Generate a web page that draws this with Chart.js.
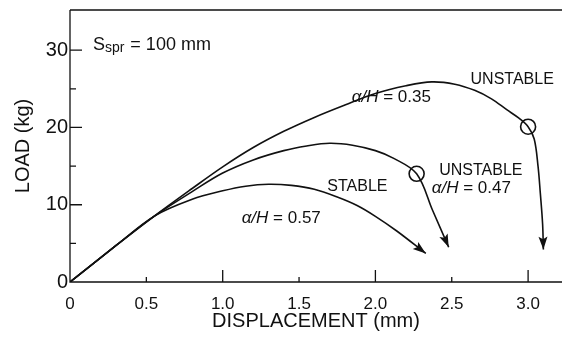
<!DOCTYPE html>
<html>
<head>
<meta charset="utf-8">
<script src="https://cdn.jsdelivr.net/npm/chart.js@4.4.1/dist/chart.umd.min.js"></script>
<style>
  html, body { margin: 0; padding: 0; background: #fff; }
  #wrap { width: 562px; height: 347px; }
</style>
</head>
<body>
<div id="wrap"><canvas id="myChart" width="562" height="347"></canvas></div>
<script>
// curve a/H = 0.35 (unstable, the high one)
var disp035 = [0, 0.3, 0.55, 0.8, 1.0, 1.2, 1.4, 1.6, 1.8, 2.0, 2.2, 2.37, 2.52, 2.65, 2.76, 2.86, 2.94, 3.0, 3.04, 3.065, 3.08, 3.095, 3.1];
var load035 = [0, 4.7, 8.5, 12.1, 14.9, 17.4, 19.5, 21.3, 22.9, 24.4, 25.4, 25.9, 25.6, 24.8, 23.7, 22.3, 21.2, 20.1, 18.5, 15.0, 11.5, 7.5, 4.2];
// curve a/H = 0.47
var disp047 = [0, 0.3, 0.55, 0.8, 1.0, 1.2, 1.4, 1.55, 1.7, 1.85, 2.0, 2.12, 2.27, 2.375, 2.48];
var load047 = [0, 4.7, 8.5, 11.7, 14.1, 15.8, 17.0, 17.6, 17.95, 17.7, 17.0, 16.0, 14.0, 9.25, 4.5];
// curve a/H = 0.57 (stable)
var disp057 = [0, 0.3, 0.55, 0.8, 1.0, 1.15, 1.3, 1.45, 1.6, 1.75, 1.88, 2.0, 2.14, 2.33];
var load057 = [0, 4.7, 8.5, 10.7, 11.8, 12.4, 12.65, 12.5, 12.0, 11.0, 9.9, 8.5, 6.6, 3.7];
// instability points (circles)
var circleDisp = [3.0, 2.27];
var circleLoad = [20.1, 14.0];

var xTicks = [0, 0.5, 1, 1.5, 2, 2.5, 3];
var xTickLabels = ["0", "0.5", "1.0", "1.5", "2.0", "2.5", "3.0"];
var yTicks = [0, 10, 20, 30];
var yTickLabels = ["0", "10", "20", "30"];
var yMinorTicks = [5, 15, 25];

var FONT = "'Liberation Sans', Arial, Helvetica, sans-serif";
var INK = "#111";

// text notes placed in data units
var notes = [
  { x: 0.15, y: 30.0, parts: [["S", 18, ""], ["spr", 14, "sub"], [" = 100 mm", 18, ""]] },
  { x: 2.623, y: 25.6, parts: [["UNSTABLE", 16, ""]] },
  { x: 1.845, y: 23.35, parts: [["α/H", 17, "i"], [" = 0.35", 17, ""]] },
  { x: 2.418, y: 13.86, parts: [["UNSTABLE", 16, ""]] },
  { x: 2.369, y: 11.49, parts: [["α/H", 17, "i"], [" = 0.47", 17, ""]] },
  { x: 1.685, y: 11.83, parts: [["STABLE", 16, ""]] },
  { x: 1.124, y: 7.6, parts: [["α/H", 17, "i"], [" = 0.57", 17, ""]] }
];

function pts(xs, ys) {
  return xs.map(function (v, i) { return { x: v, y: ys[i] }; });
}

function curve(label, xs, ys) {
  return {
    label: label,
    data: pts(xs, ys),
    borderColor: INK,
    borderWidth: 1.6,
    pointRadius: 0,
    tension: 0.35,
    fill: false,
  };
}

var inkPlugin = {
  id: "ink",
  beforeDatasetsDraw: function (chart) {
    var ctx = chart.ctx, a = chart.chartArea, x = chart.scales.x, y = chart.scales.y;
    ctx.save();
    ctx.strokeStyle = INK;
    ctx.lineWidth = 1.3;
    ctx.beginPath();
    ctx.moveTo(a.left, a.top);
    ctx.lineTo(a.right, a.top);
    ctx.moveTo(a.left, a.top);
    ctx.lineTo(a.left, a.bottom);
    ctx.lineTo(a.right, a.bottom);
    xTicks.forEach(function (v) {
      var px = x.getPixelForValue(v);
      var len = v % 1 === 0 ? 12 : 5;
      ctx.moveTo(px, a.bottom);
      ctx.lineTo(px, a.bottom - len);
    });
    yTicks.forEach(function (v) {
      var py = y.getPixelForValue(v);
      ctx.moveTo(a.left, py);
      ctx.lineTo(a.left + 12, py);
    });
    yMinorTicks.forEach(function (v) {
      var py = y.getPixelForValue(v);
      ctx.moveTo(a.left, py);
      ctx.lineTo(a.left + 6, py);
    });
    ctx.stroke();
    ctx.restore();
  },
  afterDatasetsDraw: function (chart) {
    var ctx = chart.ctx, x = chart.scales.x, y = chart.scales.y;
    ctx.save();
    ctx.fillStyle = INK;
    // arrow heads on the three curves
    [0, 1, 2].forEach(function (di) {
      var els = chart.getDatasetMeta(di).data;
      var p = els[els.length - 1], q = els[els.length - 2];
      var fx = p.cp1x !== undefined ? p.cp1x : q.x;
      var fy = p.cp1y !== undefined ? p.cp1y : q.y;
      if (Math.abs(fx - p.x) + Math.abs(fy - p.y) < 0.5) { fx = q.x; fy = q.y; }
      var ang = Math.atan2(p.y - fy, p.x - fx);
      var L = 13, W = 4.5;
      ctx.beginPath();
      ctx.moveTo(p.x, p.y);
      ctx.lineTo(p.x - L * Math.cos(ang) + W * Math.sin(ang), p.y - L * Math.sin(ang) - W * Math.cos(ang));
      ctx.lineTo(p.x - L * 0.8 * Math.cos(ang), p.y - L * 0.8 * Math.sin(ang));
      ctx.lineTo(p.x - L * Math.cos(ang) - W * Math.sin(ang), p.y - L * Math.sin(ang) + W * Math.cos(ang));
      ctx.closePath();
      ctx.fill();
    });
    // text notes
    ctx.textBaseline = "alphabetic";
    ctx.textAlign = "left";
    notes.forEach(function (n) {
      var px = x.getPixelForValue(n.x), py = y.getPixelForValue(n.y);
      n.parts.forEach(function (part) {
        ctx.font = (part[2] === "i" ? "italic " : "") + part[1] + "px " + FONT;
        var dy = part[2] === "sub" ? 2 : 0;
        ctx.fillText(part[0], px, py + dy);
        px += ctx.measureText(part[0]).width + (part[2] === "sub" ? 1 : 0);
      });
    });
    ctx.restore();
  }
};

function noPad(scale) {
  scale.paddingLeft = 0;
  scale.paddingRight = 0;
  scale.paddingTop = 0;
  scale.paddingBottom = 0;
}

new Chart(document.getElementById("myChart"), {
  type: "line",
  data: {
    datasets: [
      curve("a/H = 0.35", disp035, load035),
      curve("a/H = 0.47", disp047, load047),
      curve("a/H = 0.57", disp057, load057),
      {
        label: "instability",
        type: "scatter",
        data: pts(circleDisp, circleLoad),
        showLine: false,
        pointRadius: 7.5,
        pointBorderWidth: 1.6,
        pointBorderColor: INK,
        pointBackgroundColor: "rgba(0,0,0,0)",
      },
    ],
  },
  plugins: [inkPlugin],
  options: {
    responsive: false,
    animation: false,
    devicePixelRatio: 1,
    layout: { autoPadding: false, padding: { top: 10, left: 0, right: 0, bottom: 0 } },
    plugins: {
      legend: { display: false },
      tooltip: { enabled: false },
    },
    scales: {
      x: {
        type: "linear",
        min: 0,
        max: 3.222,
        afterFit: function (scale) { scale.height = 65; noPad(scale); },
        afterBuildTicks: function (scale) {
          scale.ticks = xTicks.map(function (v) { return { value: v }; });
        },
        grid: { display: false, drawTicks: false },
        border: { display: false },
        ticks: {
          color: INK,
          padding: 12,
          maxRotation: 0,
          font: { family: FONT, size: 17 },
          callback: function (v) { return xTickLabels[xTicks.indexOf(v)]; },
        },
        title: {
          display: true,
          text: "DISPLACEMENT (mm)",
          color: INK,
          font: { family: FONT, size: 20 },
          padding: { top: 0, bottom: 14 },
        },
      },
      y: {
        min: 0,
        max: 35.2,
        afterFit: function (scale) { scale.width = 70; noPad(scale); },
        afterBuildTicks: function (scale) {
          scale.ticks = yTicks.map(function (v) { return { value: v }; });
        },
        grid: { display: false, drawTicks: false },
        border: { display: false },
        ticks: {
          color: INK,
          padding: 2,
          font: { family: FONT, size: 20 },
          callback: function (v) { return yTickLabels[yTicks.indexOf(v)]; },
        },
        title: {
          display: true,
          text: "LOAD (kg)",
          color: INK,
          font: { family: FONT, size: 20 },
          padding: { top: 11, bottom: 0 },
        },
      },
    },
  },
});
</script>
</body>
</html>
